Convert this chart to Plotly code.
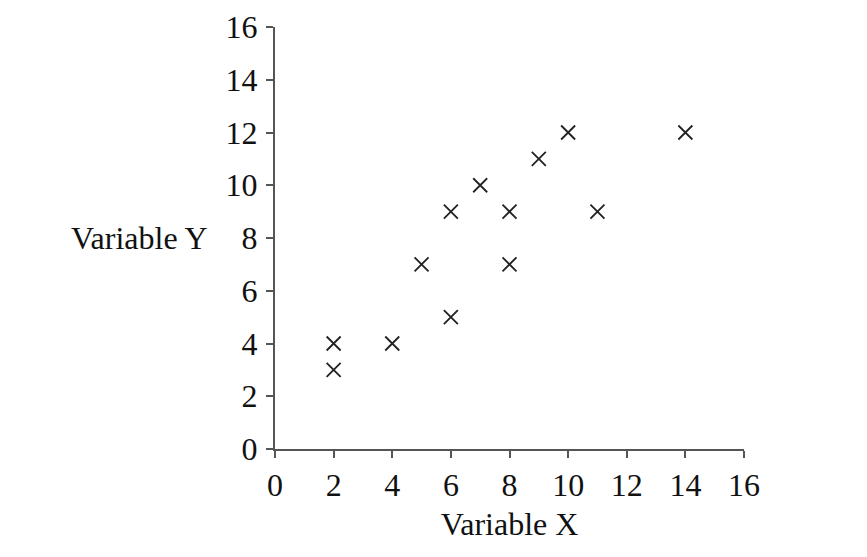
import plotly.graph_objects as go

x_vals = [2, 2, 4, 5, 6, 6, 7, 8, 8, 9, 10, 11, 14]
y_vals = [4, 3, 4, 7, 9, 5, 10, 9, 7, 11, 12, 9, 12]
tick_vals = [0, 2, 4, 6, 8, 10, 12, 14, 16]
x_title = "Variable X"
y_title = "Variable Y"

font = dict(family="Liberation Serif, Times New Roman, serif", size=32, color="#111")

fig = go.Figure(go.Scatter(
    x=x_vals, y=y_vals, mode="markers",
    marker=dict(symbol="x-thin", size=14, line=dict(width=1.8, color="#222"), color="#222"),
))

axis_common = dict(
    showgrid=False, zeroline=False, showline=True, linecolor="#555", linewidth=2,
    ticks="outside", ticklen=7, tickwidth=2, tickcolor="#555",
    tickvals=tick_vals, tickfont=font, range=[0, 16], automargin=False,
)

fig.update_layout(
    width=867, height=557,
    margin=dict(l=267, r=131, t=19, b=116),
    paper_bgcolor="white", plot_bgcolor="white",
    showlegend=False,
    font=font,
    xaxis=dict(**axis_common, title=dict(text=x_title, font=font, standoff=10)),
    yaxis=dict(**axis_common, ticklabelstandoff=2),
    annotations=[dict(
        text=y_title, xref="paper", yref="y", x=-0.139, y=8.0, xanchor="right", yanchor="middle",
        showarrow=False, font=font,
    )],
)

fig.write_html("out.html")
